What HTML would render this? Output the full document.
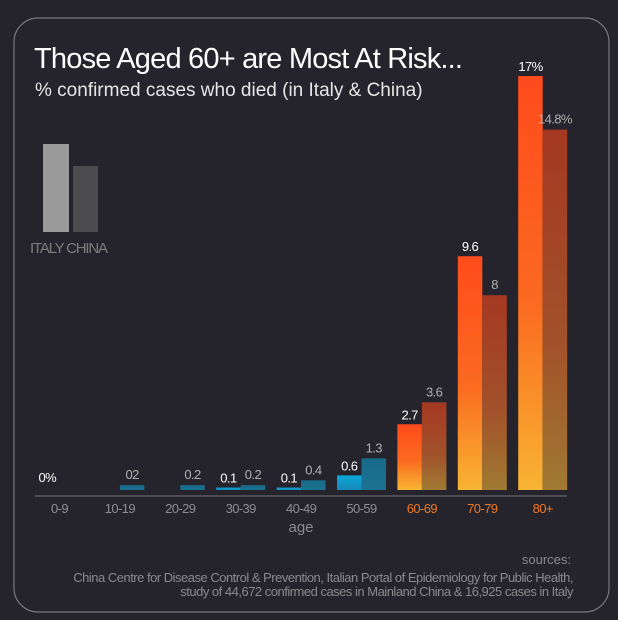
<!DOCTYPE html>
<html><head><meta charset="utf-8">
<style>
html,body{margin:0;padding:0;background:#25232c;}
svg{display:block;font-family:"Liberation Sans",sans-serif;}
</style></head>
<body>
<svg id="chart" width="618" height="620" viewBox="0 0 618 620">
<defs>
<linearGradient id="gItHot" x1="0" y1="0" x2="0" y2="1"><stop offset="0" stop-color="#ff4b1c"/><stop offset="0.55" stop-color="#fb6a20"/><stop offset="1" stop-color="#f8b432"/></linearGradient>
<linearGradient id="gChHot" x1="0" y1="0" x2="0" y2="1"><stop offset="0" stop-color="#a53822"/><stop offset="0.6" stop-color="#a2522a"/><stop offset="1" stop-color="#a07a32"/></linearGradient>
<linearGradient id="gItCold" x1="0" y1="0" x2="0" y2="1"><stop offset="0" stop-color="#0aa6da"/><stop offset="1" stop-color="#1688b5"/></linearGradient>
<linearGradient id="gChCold" x1="0" y1="0" x2="0" y2="1"><stop offset="0" stop-color="#19698a"/><stop offset="1" stop-color="#1a7290"/></linearGradient>
</defs>
<rect x="14" y="18" width="595" height="594" rx="24" fill="none" stroke="#7a787e" stroke-width="1.2"/>
<text x="34" y="68" font-size="29" fill="#ffffff" letter-spacing="-0.8">Those Aged 60+ are Most At Risk...</text>
<text x="35" y="96" font-size="19" fill="#e6e6e6">% confirmed cases who died (in Italy &amp; China)</text>
<g>
<rect x="43" y="144" width="26" height="88" fill="#9a9a9a"/>
<rect x="73" y="166" width="25" height="66" fill="#4c4b50"/>
<text x="30" y="253" font-size="15" fill="#7d7d7d" letter-spacing="-1.2">ITALY CHINA</text>
</g>
<g id="bars"></g>
<line x1="35" y1="496" x2="567" y2="496" stroke="#77767a" stroke-width="1"/>
<text x="301" y="532" font-size="15" fill="#8a898d" text-anchor="middle">age</text>
<text x="571" y="564" font-size="13" fill="#8a898d" text-anchor="end">sources:</text>
<text x="573" y="582" font-size="13" fill="#8a898d" text-anchor="end" letter-spacing="-0.5">China Centre for Disease Control &amp; Prevention, Italian Portal of Epidemiology for Public Health,</text>
<text x="573" y="596" font-size="13" fill="#8a898d" text-anchor="end" letter-spacing="-0.5">study of 44,672 confirmed cases in Mainland China &amp; 16,925 cases in Italy</text>
</svg>
<script>
const categories = ["0-9","10-19","20-29","30-39","40-49","50-59","60-69","70-79","80+"];
const italyValues = [0, 0, 0, 0.1, 0.1, 0.6, 2.7, 9.6, 17];
const chinaValues = [0, 0.2, 0.2, 0.2, 0.4, 1.3, 3.6, 8, 14.8];
const italyLabels = ["0%", "", "", "0.1", "0.1", "0.6", "2.7", "9.6", "17%"];
const chinaLabels = ["", "02", "0.2", "0.2", "0.4", "1.3", "3.6", "8", "14.8%"];

const NS = "http://www.w3.org/2000/svg";
const g = document.getElementById("bars");
const baseY = 490, pxPerUnit = 24.35, x0 = 35, step = 60.4, bw = 24.5;
function xScale(i){ return x0 + i*step; }
function yScale(v){ return baseY - v*pxPerUnit; }
function mk(tag, attrs){ const e=document.createElementNS(NS,tag); for(const k in attrs) e.setAttribute(k,attrs[k]); g.appendChild(e); return e; }

categories.forEach((c,i)=>{
  const hot = i >= 6;
  const xi = xScale(i), xc = xi + bw;
  if (italyValues[i] > 0) {
    const y = yScale(italyValues[i]);
    const r = mk("rect",{x:xi,y:y,width:bw,height:baseY-y,fill:hot?"url(#gItHot)":"url(#gItCold)"});
    
    
  }
  if (chinaValues[i] > 0) {
    const y = yScale(chinaValues[i]);
    const r = mk("rect",{x:xc,y:y,width:bw,height:baseY-y,fill:hot?"url(#gChHot)":"url(#gChCold)"});
    
    
  }
  if (italyLabels[i]) {
    const t = mk("text",{x:xi+bw/2,y:yScale(italyValues[i])-(italyValues[i]===0?8:5),"font-size":13,fill:"#ffffff","text-anchor":"middle","letter-spacing":"-0.6"});
    t.textContent = italyLabels[i];
    
    
  }
  if (chinaLabels[i]) {
    const t = mk("text",{x:xc+bw/2,y:yScale(chinaValues[i])-6,"font-size":13,fill:"#b0b0b0","text-anchor":"middle","letter-spacing":"-0.6"});
    t.textContent = chinaLabels[i];
    
    
  }
  const lt = mk("text",{x:xi+bw,y:513,"font-size":13,fill:hot?"#f07a22":"#8f8e92","text-anchor":"middle","letter-spacing":"-0.6"});
  lt.textContent = c;
  
  
});
</script>
</body></html>
